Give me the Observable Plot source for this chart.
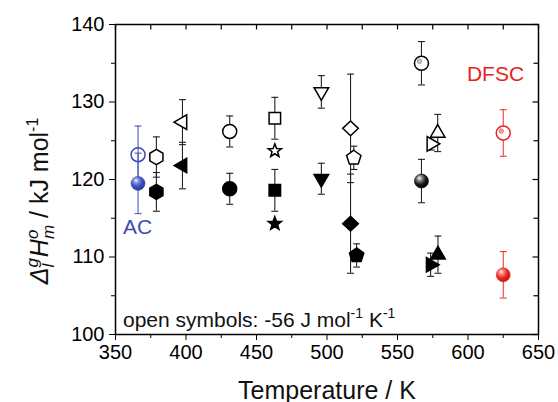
<!DOCTYPE html>
<html>
<head>
<meta charset="utf-8">
<script src="https://cdn.jsdelivr.net/npm/d3@7"></script>
<script src="https://cdn.jsdelivr.net/npm/@observablehq/plot@0.6"></script>
<style>
  html, body { margin: 0; padding: 0; background: #fff; }
  #chart svg { display: block; }
</style>
</head>
<body>
<div id="chart"></div>
<script>
// ---------------- data ----------------
const temperature = [366, 366, 379, 379, 397.5, 397.5, 431, 431, 463, 463, 463, 463, 496, 496, 516.7, 519, 516.7, 521, 567, 567, 574, 578.5, 578.7, 573.5, 625, 625];
const enthalpy    = [123.2, 119.5, 122.9, 118.4, 127.4, 121.8, 126.2, 118.8, 127.9, 123.7, 118.6, 114.3, 131.3, 120.1, 126.6, 122.8, 114.3, 110.2, 135.0, 119.8, 124.6, 126.0, 110.3, 109.0, 126.0, 107.7];
const errorBar    = [3.7, 3.9, 2.6, 2.5, 2.9, 3.0, 2.0, 2.0, 2.7, 0, 2.7, 0, 2.1, 2.0, 7.0, 1.5, 6.4, 1.5, 2.8, 2.8, 0.8, 2.4, 2.4, 1.5, 3.0, 3.0];
const shape       = ["circle","circle","hexagon","hexagon","triLeft","triLeft","circle","circle","square","star","square","star","triDown","triDown","diamond","pentagon","diamond","pentagon","circle","circle","triRight","triUp","triUp","triRight","circle","circle"];
const fillStyle   = ["hollow","ball","open","filled","open","filled","open","filled","open","open","filled","filled","open","filled","open","open","filled","filled","openball","ball","open","open","filled","filled","openball","ball"];
const method      = ["AC","AC","lit","lit","lit","lit","lit","lit","lit","lit","lit","lit","lit","lit","lit","lit","lit","lit","lit","lit","lit","lit","lit","lit","DFSC","DFSC"];

const xMajor = [350, 400, 450, 500, 550, 600, 650];
const xMinor = [375, 425, 475, 525, 575, 625];
const yMajor = [100, 110, 120, 130, 140];
const yMinor = [105, 115, 125, 135];

const methodColor = {AC: "#3c4db0", DFSC: "#e8231d", lit: "#000000"};
const barColor = {AC: "#4a5cc0", DFSC: "#ee3a33", lit: "#222222"};

const rows = temperature.map((t, i) => ({
  T: t, H: enthalpy[i], e: errorBar[i], shape: shape[i], style: fillStyle[i], method: method[i]
}));
const errRows = rows.filter(d => d.e > 0);

// ---------------- symbols ----------------
function mk(fn) { return {draw(ctx, size) { fn(ctx, Math.sqrt(size / Math.PI)); }}; }
function poly(ctx, pts) {
  ctx.moveTo(pts[0][0], pts[0][1]);
  for (let i = 1; i < pts.length; i++) ctx.lineTo(pts[i][0], pts[i][1]);
  ctx.closePath();
}
function regular(n, R, rot) {
  return d3.range(n).map(i => { const a = rot + 2 * Math.PI * i / n; return [R * Math.cos(a), R * Math.sin(a)]; });
}
const SYM = {
  circle: mk((c, r) => { c.moveTo(r, 0); c.arc(0, 0, r, 0, 2 * Math.PI); }),
  square: mk((c, r) => { const s = 0.82 * r; poly(c, [[-s, -s], [s, -s], [s, s], [-s, s]]); }),
  diamond: mk((c, r) => poly(c, [[0, -1.05 * r], [1.12 * r, 0], [0, 1.05 * r], [-1.12 * r, 0]])),
  triUp: mk((c, r) => poly(c, regular(3, 1.2 * r, -Math.PI / 2))),
  triDown: mk((c, r) => poly(c, regular(3, 1.2 * r, Math.PI / 2))),
  triLeft: mk((c, r) => poly(c, regular(3, 1.2 * r, Math.PI))),
  triRight: mk((c, r) => poly(c, regular(3, 1.2 * r, 0))),
  pentagon: mk((c, r) => poly(c, regular(5, 1.08 * r, -Math.PI / 2))),
  hexagon: mk((c, r) => poly(c, regular(6, 1.08 * r, -Math.PI / 2))),
  star: mk((c, r) => poly(c, d3.range(10).map(i => {
    const a = -Math.PI / 2 + Math.PI * i / 5, R = i % 2 ? 0.42 * r : 1.0 * r;
    return [R * Math.cos(a), R * Math.sin(a)];
  })))
};
const capSym = mk((c, r) => { c.moveTo(-r, 0); c.lineTo(r, 0); });
const tickDownSym = mk((c, r) => { c.moveTo(0, 0); c.lineTo(0, r); });
const tickLeftSym = mk((c, r) => { c.moveTo(0, 0); c.lineTo(-r, 0); });

function fillOf(d) {
  const col = methodColor[d.method];
  if (d.style === "hollow") return "none";
  if (d.style === "open" || d.style === "openball") return "#ffffff";
  if (d.style === "filled") return col;
  return "url(#ball-" + d.method + ")";
}
function strokeOf(d) {
  if (d.style === "ball") return d.method === "lit" ? "#000" : methodColor[d.method];
  return methodColor[d.method];
}

const dotMarks = Object.keys(SYM).map(s =>
  Plot.dot(rows.filter(d => d.shape === s), {
    x: "T", y: "H", symbol: SYM[s], r: 7,
    fill: fillOf, stroke: strokeOf,
    strokeWidth: d => d.style === "ball" ? 0.6 : 1.5
  })
);

const chart = Plot.plot({
  width: 558,
  height: 402,
  marginLeft: 115,
  marginRight: 20,
  marginTop: 24,
  marginBottom: 68,
  style: {fontFamily: "'Liberation Sans', Arial, sans-serif", color: "#000", background: "#fff"},
  x: {domain: [350, 650]},
  y: {domain: [100, 140]},
  color: {type: "identity"},
  marks: [
    // axes (outward ticks on bottom/left)
    Plot.axisX(xMajor, {anchor: "bottom", tickSize: 6, tickPadding: 4, fontSize: 20, label: null, tickFormat: d => String(d)}),
    Plot.axisX(xMinor, {anchor: "bottom", tickSize: 4, label: null, tickFormat: () => ""}),
    Plot.axisY(yMajor, {anchor: "left", tickSize: 6, tickPadding: 5, fontSize: 20, label: null, tickFormat: d => String(d)}),
    Plot.axisY(yMinor, {anchor: "left", tickSize: 4, label: null, tickFormat: () => ""}),
    // mirrored inward ticks on top/right
    Plot.dot(xMajor.concat(xMinor), {x: d => d, frameAnchor: "top", symbol: tickDownSym, r: 5, stroke: "#000", strokeWidth: 1.2}),
    Plot.dot(yMajor, {y: d => d, frameAnchor: "right", symbol: tickLeftSym, r: 6, stroke: "#000", strokeWidth: 1.2}),
    Plot.dot(yMinor, {y: d => d, frameAnchor: "right", symbol: tickLeftSym, r: 5, stroke: "#000", strokeWidth: 1.2}),
    Plot.frame({stroke: "#000", strokeWidth: 1.5}),
    // error bars
    Plot.ruleX(errRows, {x: "T", y1: d => d.H - d.e, y2: d => d.H + d.e, stroke: d => barColor[d.method], strokeWidth: 1.1}),
    Plot.dot(errRows, {x: "T", y: d => d.H + d.e, symbol: capSym, r: 3.5, stroke: d => barColor[d.method], strokeWidth: 1.1}),
    Plot.dot(errRows, {x: "T", y: d => d.H - d.e, symbol: capSym, r: 3.5, stroke: d => barColor[d.method], strokeWidth: 1.1}),
    // symbols
    ...dotMarks,
    // small inner highlight for open "ball" circles
    Plot.dot(rows.filter(d => d.style === "openball"), {
      x: "T", y: "H", r: 2.2, dx: -2, dy: -2,
      fill: d => d.method === "DFSC" ? "#f7a3a0" : "#c8c8c8",
      stroke: d => d.method === "DFSC" ? "#ee5550" : "#888888", strokeWidth: 0.8
    }),
    // method labels
    Plot.text([{T: 365.6, H: 113.8, label: "AC"}], {x: "T", y: "H", text: "label", fill: methodColor.AC, fontSize: 21}),
    Plot.text([{T: 619.5, H: 133.6, label: "DFSC"}], {x: "T", y: "H", text: "label", fill: methodColor.DFSC, fontSize: 21}),
    // x axis title
    Plot.text(["Temperature / K"], {text: d => d, frameAnchor: "bottom", dy: 56, fontSize: 25, lineAnchor: "middle", fill: "#111"})
  ]
});

document.getElementById("chart").appendChild(chart);

// gradients for shaded "ball" symbols
const svg = d3.select(chart);
const defs = svg.insert("defs", ":first-child");
const balls = {
  lit: ["#ffffff", "#9a9a9a", "#1a1a1a", "#000000"],
  AC: ["#ffffff", "#8a99e6", "#3a4db5", "#2a3890"],
  DFSC: ["#ffffff", "#ff8a80", "#e8231d", "#b81410"]
};
for (const [k, c] of Object.entries(balls)) {
  const g = defs.append("radialGradient").attr("id", "ball-" + k)
    .attr("cx", 0.4).attr("cy", 0.35).attr("r", 0.7).attr("fx", 0.35).attr("fy", 0.28);
  g.append("stop").attr("offset", 0).attr("stop-color", c[0]);
  g.append("stop").attr("offset", 0.22).attr("stop-color", c[1]);
  g.append("stop").attr("offset", 0.6).attr("stop-color", c[2]);
  g.append("stop").attr("offset", 1).attr("stop-color", c[3]);
}

// y axis title with sub/superscripts
const yl = svg.append("text")
  .attr("transform", "translate(48,201) rotate(-90)")
  .attr("text-anchor", "middle")
  .attr("font-size", 25)
  .attr("fill", "#111");
yl.append("tspan").attr("font-style", "italic").text("Δ");
yl.append("tspan").attr("font-style", "italic").attr("font-size", 17).attr("dy", 6).text("l");
yl.append("tspan").attr("font-style", "italic").attr("font-size", 17).attr("dx", -3.8).attr("dy", -16).text("g");
yl.append("tspan").attr("font-style", "italic").attr("dx", 1).attr("dy", 10).text("H");
yl.append("tspan").attr("font-style", "italic").attr("font-size", 17).attr("dy", 6).text("m");
yl.append("tspan").attr("font-style", "italic").attr("font-size", 17).attr("dx", -14).attr("dy", -16).text("o");
yl.append("tspan").attr("dx", 4.5).attr("dy", 10).text(" / kJ mol");
yl.append("tspan").attr("font-size", 16).attr("dy", -10).text("-1");

// note inside the plot
const note = svg.append("text")
  .attr("x", 123).attr("y", 327)
  .attr("text-anchor", "start")
  .attr("font-size", 21)
  .attr("fill", "#111");
note.append("tspan").text("open symbols: -56 J mol");
note.append("tspan").attr("font-size", 14).attr("dy", -9).text("-1");
note.append("tspan").attr("dy", 9).text(" K");
note.append("tspan").attr("font-size", 14).attr("dy", -9).text("-1");
</script>
</body>
</html>
